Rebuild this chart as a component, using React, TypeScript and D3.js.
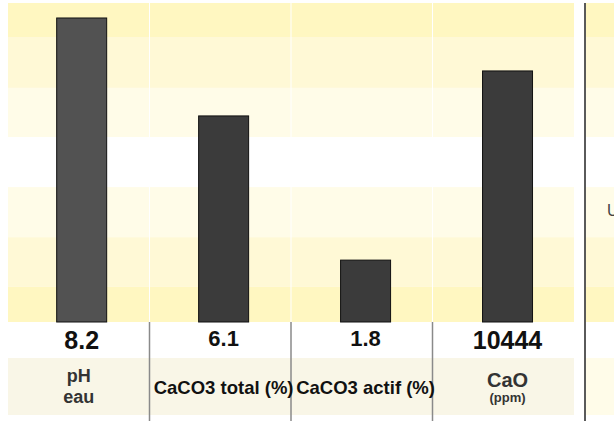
import React, { useEffect } from 'react';
import * as d3 from 'd3';

// categories, read values, and bar level (0-100 on the interpretation scale)
const categories = ['ph', 'caco3tot', 'caco3act', 'cao'];
const valueLabels = ['8.2', '6.1', '1.8', '10444'];
const levels = [95.3, 64.6, 19.4, 78.7];
const nameLines = [['pH', 'eau'], ['CaCO3 total (%)'], ['CaCO3 actif (%)'], ['CaO', '(ppm)']];

// interpretation zones (bottom to top)
const zoneBreaks = [0, 11, 26.6, 42.3, 58, 73.4, 89.3, 100];
const zoneColors = ['#fff7c1', '#fff9d6', '#fffce8', '#ffffff', '#fffce8', '#fff9d6', '#fff7c1'];

const W = 614;
const H = 421;
const FONT = '"Liberation Sans", Arial, sans-serif';

const App: React.FC = () => {
    useEffect(() => {
        document.body.style.margin = '0';
    }, []);

    // columns of the table
    const x = d3.scaleBand<string>().domain(categories).range([8, 574]);
    // bar slots (slightly offset from the column grid)
    const xb = d3.scaleBand<string>().domain(categories).range([10.7, 578.5]);
    const y = d3.scaleLinear().domain([0, 100]).range([322, 3]);
    const barW = 50;
    const barCenter = (c: string) => xb(c)! + xb.bandwidth() / 2;

    const zones = d3.range(zoneColors.length).map(i => ({
        y0: y(zoneBreaks[i + 1]),
        y1: y(zoneBreaks[i]),
        color: zoneColors[i],
    }));

    return (
        <svg width={W} height={H} style={{ display: 'block' }} fontFamily={FONT}>
            {/* zone bands, main panel and right panel */}
            {zones.map((z, i) => (
                <g key={i}>
                    <rect x={8} y={z.y0} width={566} height={z.y1 - z.y0} fill={z.color} />
                    <rect x={586} y={z.y0} width={W - 586} height={z.y1 - z.y0} fill={z.color} />
                </g>
            ))}
            {/* white column separators inside bands */}
            {categories.slice(1).map(c => (
                <line key={c} x1={x(c)} x2={x(c)} y1={y(100)} y2={y(0)} stroke="#fff" strokeWidth={1} />
            ))}

            {/* label band */}
            <rect x={8} y={358} width={566} height={57} fill="#f9f6e7" />
            <rect x={586} y={358} width={W - 586} height={57} fill="#fffce9" />

            {/* gray separators below */}
            {categories.slice(1).map(c => (
                <line key={c} x1={x(c)} x2={x(c)} y1={322} y2={H} stroke="#8a8a8a" strokeWidth={1.5} />
            ))}

            {/* bars */}
            {categories.map((c, i) => (
                <rect
                    key={c}
                    x={barCenter(c) - barW / 2}
                    y={y(levels[i])}
                    width={barW}
                    height={y(0) - y(levels[i])}
                    fill={i === 0 ? '#525252' : '#3b3b3b'}
                    stroke="#111"
                    strokeWidth={1}
                />
            ))}

            {/* values */}
            {categories.map((c, i) => {
                const big = i === 0 || i === 3;
                return (
                    <text
                        key={c}
                        x={barCenter(c)}
                        y={big ? 348.5 : 345.5}
                        textAnchor="middle"
                        fontWeight="bold"
                        fontSize={big ? 25 : 22}
                        fill="#111"
                    >
                        {valueLabels[i]}
                    </text>
                );
            })}

            {/* names */}
            {categories.map((c, i) => {
                const lines = nameLines[i];
                const cx = barCenter(c);
                if (lines.length === 1) {
                    return (
                        <text key={c} x={cx} y={394} textAnchor="middle" fontWeight="bold" fontSize={18.5} fill="#111">
                            {lines[0]}
                        </text>
                    );
                }
                const small = lines[1].startsWith('(');
                return (
                    <g key={c} fontWeight="bold" fill="#333" textAnchor="middle">
                        <text x={i === 0 ? x(c)! + x.bandwidth() / 2 : cx} y={small ? 386.5 : 382} fontSize={small ? 20 : 18}>
                            {lines[0]}
                        </text>
                        <text x={i === 0 ? x(c)! + x.bandwidth() / 2 : cx} y={small ? 401.5 : 403} fontSize={small ? 13 : 18}>
                            {lines[1]}
                        </text>
                    </g>
                );
            })}

            {/* right panel divider and clipped title */}
            <line x1={585} x2={585} y1={3} y2={H} stroke="#5a5a5a" strokeWidth={2} />
            <text x={607} y={216} fontSize={16} fill="#444">U</text>
        </svg>
    );
};

export default App;
